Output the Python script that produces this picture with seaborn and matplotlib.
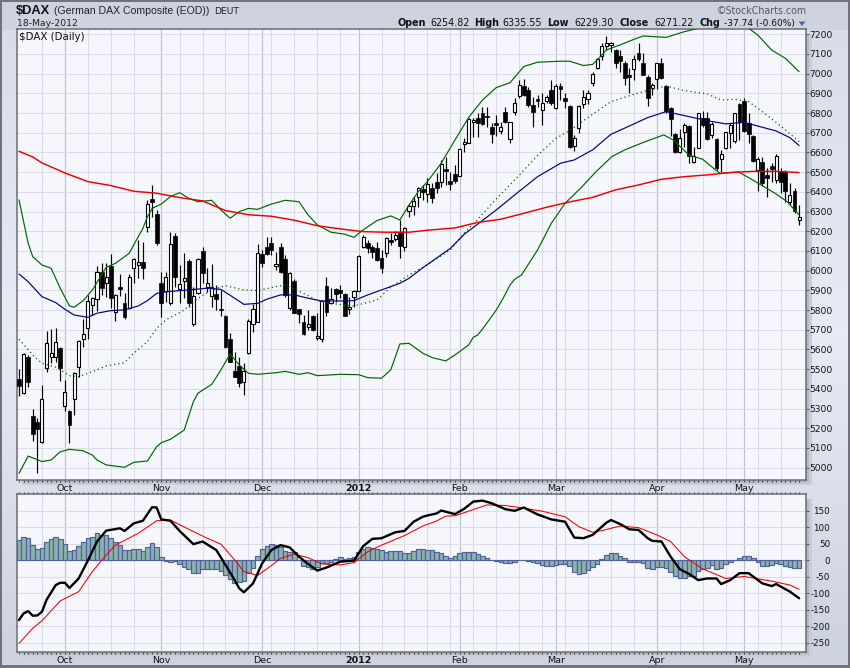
import numpy as np
import pandas as pd
import matplotlib
matplotlib.use('Agg')
import matplotlib.pyplot as plt
from matplotlib.patches import Rectangle, Polygon
from matplotlib.colors import to_rgb
import seaborn as sns

opens = [5449, 5378, 5564, 5263, 5234, 5132, 5504, 5564, 5560, 5606,
         5315, 5288, 5347, 5513, 5652, 5707, 5826, 5855, 5995, 5936,
         6024, 5789, 5916, 5834, 5809, 6015, 6027, 6042, 6223, 6364,
         6288, 5936, 5899, 5838, 6176, 5909, 5949, 6049, 5729, 5885,
         6100, 5919, 5873, 5882, 5804, 5770, 5652, 5491, 5516, 5437,
         5581, 5728, 5741, 6085, 6119, 6139, 6022, 6119, 6058, 5809,
         5948, 5804, 5741, 5716, 5770, 5657, 5655, 5922, 5838, 5905,
         5902, 5880, 5806, 5868, 5899, 6122, 6142, 6122, 6114, 6063,
         6092, 6156, 6161, 6198, 6122, 6303, 6330, 6376, 6413, 6388,
         6418, 6452, 6452, 6514, 6455, 6489, 6482, 6641, 6650, 6753,
         6773, 6799, 6787, 6729, 6748, 6711, 6807, 6667, 6807, 6888,
         6937, 6917, 6841, 6870, 6814, 6861, 6917, 6827, 6939, 6875,
         6836, 6635, 6723, 6846, 6870, 6954, 7027, 7091, 7142, 7144,
         7120, 7090, 7056, 6992, 7022, 7103, 7053, 6985, 6926, 6971,
         7053, 6939, 6824, 6692, 6604, 6706, 6734, 6553, 6624, 6777,
         6773, 6689, 6667, 6565, 6621, 6701, 6658, 6844, 6861, 6751,
         6684, 6511, 6550, 6486, 6531, 6460, 6506, 6503, 6349, 6404,
         6254.82]
closes = [5416, 5575, 5437, 5170, 5197, 5347, 5631, 5581, 5640, 5504,
          5383, 5217, 5479, 5645, 5677, 5848, 5863, 5995, 5914, 5970,
          5860, 5877, 5909, 5767, 5970, 6058, 6046, 6015, 6338, 6347,
          6142, 5834, 5966, 6134, 5966, 5931, 5961, 5834, 5872, 6058,
          5987, 5936, 5916, 5855, 5800, 5611, 5538, 5462, 5432, 5491,
          5746, 5804, 6088, 6037, 6083, 6105, 6032, 5995, 5877, 5987,
          5787, 5778, 5677, 5729, 5699, 5670, 5848, 5792, 5855, 5880,
          5885, 5772, 5814, 5899, 6076, 6173, 6114, 6097, 6054, 6015,
          6164, 6147, 6181, 6125, 6218, 6330, 6355, 6418, 6401, 6438,
          6371, 6421, 6542, 6508, 6440, 6455, 6616, 6655, 6768, 6765,
          6751, 6745, 6782, 6692, 6738, 6728, 6756, 6753, 6849, 6944,
          6892, 6841, 6807, 6863, 6849, 6883, 6849, 6939, 6921, 6861,
          6630, 6672, 6836, 6880, 6900, 6997, 7076, 7142, 7154, 7154,
          7053, 7066, 6980, 6985, 7076, 7073, 6995, 6875, 6943, 7053,
          6978, 6811, 6770, 6602, 6672, 6741, 6584, 6582, 6799, 6739,
          6667, 6746, 6520, 6591, 6702, 6738, 6799, 6756, 6711, 6692,
          6557, 6569, 6443, 6472, 6518, 6582, 6452, 6404, 6382, 6305,
          6271.22]
highs = [5499, 5581, 5570, 5298, 5250, 5420, 5694, 5706, 5708, 5614,
         5445, 5293, 5487, 5648, 5755, 5877, 5868, 6024, 6037, 6041,
         6083, 5880, 5982, 5885, 5982, 6066, 6156, 6144, 6359, 6435,
         6308, 5995, 5992, 6195, 6190, 6029, 6088, 6058, 5919, 6063,
         6119, 6012, 6032, 5927, 5902, 5775, 5682, 5589, 5564, 5530,
         5753, 5829, 6134, 6105, 6169, 6173, 6097, 6139, 6080, 5995,
         5956, 5806, 5775, 5800, 5775, 5784, 5850, 5966, 5910, 5910,
         5927, 5885, 5868, 5902, 6080, 6181, 6156, 6130, 6147, 6105,
         6173, 6190, 6200, 6257, 6223, 6338, 6376, 6427, 6435, 6469,
         6443, 6494, 6562, 6579, 6503, 6536, 6621, 6672, 6773, 6773,
         6799, 6833, 6833, 6748, 6790, 6756, 6833, 6756, 6878, 6968,
         6971, 6931, 6883, 6892, 6904, 6892, 6968, 6948, 6951, 6900,
         6841, 6689, 6841, 6917, 6917, 7010, 7081, 7154, 7191, 7159,
         7125, 7120, 7064, 7027, 7095, 7154, 7103, 6993, 6951, 7056,
         7078, 6943, 6829, 6700, 6717, 6748, 6739, 6630, 6802, 6812,
         6807, 6756, 6672, 6613, 6706, 6748, 6802, 6849, 6875, 6799,
         6689, 6579, 6579, 6520, 6545, 6592, 6520, 6511, 6443, 6418,
         6335.55]
lows = [5366, 5374, 5411, 5137, 4975, 5124, 5487, 5530, 5538, 5442,
        5290, 5127, 5268, 5462, 5611, 5652, 5775, 5795, 5877, 5868,
        5809, 5746, 5873, 5753, 5804, 5939, 5961, 5956, 6198, 6274,
        6130, 5763, 5843, 5826, 5919, 5834, 5860, 5817, 5719, 5882,
        5939, 5894, 5817, 5800, 5772, 5606, 5535, 5460, 5411, 5369,
        5575, 5690, 5738, 6017, 6080, 6080, 6004, 5987, 5868, 5800,
        5784, 5736, 5674, 5699, 5696, 5648, 5640, 5770, 5831, 5843,
        5860, 5770, 5778, 5814, 5897, 6114, 6088, 6063, 6050, 5990,
        6071, 6130, 6150, 6063, 6102, 6274, 6283, 6325, 6359, 6347,
        6342, 6393, 6426, 6435, 6410, 6443, 6480, 6604, 6646, 6680,
        6680, 6740, 6731, 6650, 6684, 6694, 6751, 6650, 6790, 6875,
        6887, 6833, 6731, 6833, 6739, 6853, 6841, 6819, 6866, 6824,
        6625, 6608, 6701, 6824, 6846, 6937, 7022, 7069, 7120, 7112,
        7027, 7010, 6943, 6900, 6968, 7066, 6993, 6836, 6892, 6921,
        6975, 6799, 6684, 6599, 6596, 6630, 6548, 6548, 6621, 6731,
        6663, 6672, 6511, 6503, 6618, 6621, 6650, 6663, 6706, 6646,
        6553, 6406, 6430, 6376, 6452, 6447, 6396, 6350, 6333, 6291,
        6229.30]

sma200_days = [0, 3, 5, 10, 15, 20, 25, 30, 35, 40, 45, 50, 55, 60, 65, 70, 75, 80, 85, 89, 95, 100,
               105, 110, 115, 120, 125, 130, 135, 140, 145, 150, 155, 160, 165, 170]
sma200 = [6606, 6577, 6547, 6496, 6452, 6432, 6403, 6393, 6371, 6354, 6305, 6284, 6276, 6256, 6228, 6212,
          6198, 6195, 6195, 6205, 6217, 6245, 6261, 6291, 6322, 6349, 6372, 6410, 6435, 6464, 6477, 6486,
          6498, 6504, 6504, 6498]
upper_days = [0, 1, 2, 3, 5, 7, 9, 11, 12, 14, 16, 19, 21, 24, 27, 28, 29, 31, 33, 35, 37, 39, 42, 44, 46,
              48, 50, 52, 55, 58, 61, 63, 65, 68, 71, 73, 75, 78, 81, 83, 85, 87, 89, 92, 95, 98, 101,
              104, 107, 110, 113, 118, 120, 123, 125, 126, 128, 131, 134, 136, 141, 145, 148, 152, 156,
              159, 161, 164, 167, 170]
upper = [6359, 6249, 6139, 6071, 6029, 6012, 5910, 5821, 5814, 5848, 5902, 6017, 6037, 6088, 6215, 6274,
         6316, 6338, 6376, 6396, 6367, 6350, 6357, 6308, 6266, 6300, 6316, 6311, 6338, 6357, 6350, 6283,
         6232, 6195, 6185, 6169, 6207, 6254, 6278, 6257, 6333, 6401, 6452, 6545, 6663, 6778, 6866, 6929,
         6954, 7036, 7058, 7063, 7063, 7041, 7047, 7069, 7120, 7146, 7174, 7191, 7184, 7213, 7230, 7239,
         7242, 7230, 7196, 7120, 7078, 7010]
mid_days = [0, 3, 5, 8, 11, 13, 17, 19, 23, 25, 28, 30, 32, 36, 39, 42, 45, 49, 52, 56, 58, 62, 65, 69, 73,
            78, 81, 85, 88, 94, 97, 100, 104, 108, 113, 117, 120, 124, 129, 134, 138, 141, 145, 150, 153,
            156, 159, 162, 166, 170]
mid = [5652, 5572, 5530, 5510, 5467, 5462, 5496, 5516, 5533, 5581, 5640, 5707, 5750, 5800, 5860, 5902, 5924,
       5902, 5899, 5919, 5927, 5885, 5848, 5831, 5821, 5851, 5916, 5978, 6017, 6105, 6190, 6261, 6364, 6460,
       6584, 6672, 6711, 6778, 6858, 6895, 6921, 6937, 6914, 6897, 6866, 6870, 6858, 6807, 6734, 6655]
sma50_days = [0, 2, 5, 8, 10, 12, 15, 17, 20, 23, 26, 28, 30, 33, 37, 41, 44, 47, 49, 52, 54, 57, 60, 63, 66,
              70, 73, 76, 79, 83, 85, 88, 94, 97, 100, 104, 108, 113, 118, 121, 125, 129, 133, 137, 141, 145,
              150, 154, 158, 161, 165, 168, 170]
sma50 = [5983, 5944, 5868, 5838, 5804, 5775, 5763, 5784, 5797, 5801, 5821, 5848, 5885, 5895, 5902, 5911, 5905,
         5860, 5829, 5834, 5855, 5877, 5877, 5860, 5846, 5846, 5848, 5877, 5902, 5936, 5961, 6015, 6113, 6184,
         6237, 6308, 6384, 6477, 6545, 6562, 6613, 6692, 6734, 6777, 6807, 6787, 6761, 6745, 6753, 6734, 6709,
         6675, 6635]
lower_days = [0, 2, 5, 7, 9, 11, 14, 16, 17, 19, 23, 25, 28, 30, 31, 33, 36, 38, 39, 42, 44, 46, 48, 50, 52,
              56, 58, 61, 63, 65, 70, 74, 76, 79, 81, 83, 85, 88, 90, 93, 95, 98, 99, 100, 101.5, 104,
              105.5, 107, 108, 109.5, 113, 116, 119, 122.7, 125.6, 129.2, 132, 136.5, 140.5, 142.6, 146,
              149, 151.8, 152.8, 156.8, 160.5, 165, 167.4, 170]
lower = [4971, 5059, 5031, 5039, 5081, 5093, 5086, 5064, 5039, 5014, 5002, 5027, 5034, 5107, 5127, 5144, 5191,
         5335, 5378, 5423, 5496, 5577, 5521, 5479, 5474, 5482, 5489, 5474, 5482, 5467, 5474, 5472, 5457, 5454,
         5496, 5628, 5631, 5581, 5559, 5542, 5572, 5623, 5662, 5674, 5719, 5800, 5860, 5927, 5956, 5978, 6105,
         6240, 6342, 6426, 6499, 6579, 6613, 6655, 6689, 6663, 6587, 6565, 6511, 6494, 6501, 6452, 6389, 6350,
         6283]

macd_days = [0, 1, 2, 3, 4, 5, 6, 8, 9, 10, 11, 13, 15, 17, 19, 22, 23, 25, 27, 29, 30, 31, 33, 35, 38, 40, 43,
             45, 47, 48, 49, 51, 53, 55, 57, 59, 61, 63, 65, 67, 70, 73, 75, 77, 79, 82, 84, 86, 88, 89, 91, 92,
             95, 97, 99, 101, 103, 106, 108, 110, 113, 116, 119, 121, 123, 125, 128, 129, 131, 133, 135, 137,
             138, 140, 142, 144, 146, 148, 150, 152, 153, 155, 157, 159, 162, 164, 165, 168, 170]
macd = [-181, -161, -154, -168, -167, -156, -120, -75, -68, -68, -84, -55, -1, 57, 90, 97, 89, 112, 120, 161, 160,
        124, 120, 89, 49, 57, 31, -14, -60, -85, -97, -70, -9, 31, 46, 39, 11, -11, -31, -22, -4, -1, 43, 65, 67,
        85, 89, 117, 132, 136, 142, 151, 140, 156, 178, 181, 173, 155, 150, 160, 139, 124, 117, 69, 67, 77, 114,
        122, 110, 94, 92, 67, 59, 57, 11, -27, -41, -60, -55, -55, -72, -60, -39, -39, -70, -78, -72, -95, -115]
signal_days = [0, 3, 5, 9, 13, 16, 19, 21, 26, 30, 33, 37, 41, 44, 47, 49, 52, 55, 57, 60, 63, 66, 70, 73, 76, 79,
               84, 88, 91, 93, 95, 98, 102, 106, 110, 114, 119, 122, 125, 127, 131, 135, 139, 142, 145, 149, 154,
               158, 164, 168, 170]
signal = [-252, -206, -183, -123, -95, -34, 16, 46, 82, 120, 122, 94, 67, 49, 1, -34, -46, -16, 6, 19, 8, -11, -14,
          -7, 26, 46, 75, 104, 119, 134, 135, 149, 168, 166, 158, 149, 132, 102, 85, 90, 104, 99, 77, 57, 11, -26,
          -55, -49, -63, -75, -88]
hist = [62, 70, 67, 46, 33, 36, 56, 65, 70, 64,
        49, 28, 31, 43, 54, 67, 72, 82, 77, 76,
        67, 55, 46, 31, 31, 33, 33, 28, 41, 52,
        39, 9, -1, -4, -1, -12, -21, -27, -37, -39,
        -25, -25, -25, -25, -31, -45, -58, -70, -67, -63,
        -39, -22, 13, 34, 43, 49, 45, 39, 28, 24,
        24, 1, -16, -19, -25, -21, -9, -8, -4, 3,
        9, 3, 6, 9, 26, 33, 39, 38, 33, 31,
        26, 28, 28, 28, 21, 21, 29, 33, 33, 31,
        30, 24, 23, 13, 8, 13, 21, 26, 26, 24,
        18, 13, 6, 1, -1, -4, -7, -9, -4, 1,
        1, -1, -4, -9, -14, -16, -16, -14, -12, -12,
        -16, -34, -43, -37, -29, -19, -12, 3, 16, 21,
        21, 13, 6, -4, -5, -5, -9, -24, -27, -21,
        -19, -24, -34, -49, -55, -55, -47, -47, -31, -27,
        -24, -14, -25, -23, -12, -4, 1, 8, 12, 12,
        6, -4, -16, -17, -13, -9, -12, -16, -21, -24,
        -24]

month_days = [10, 31, 53, 74, 96, 117, 139, 158]
month_labels = ['Oct', 'Nov', 'Dec', '2012', 'Feb', 'Mar', 'Apr', 'May']
week_days = [5, 15, 20, 25, 35, 40, 45, 50, 55, 60, 65, 70, 79, 84, 89, 94, 99, 104, 109, 114, 119, 124, 129,
             134, 144, 149, 154, 161, 166]
price_ticks = list(range(5000, 7201, 100))
macd_ticks = list(range(-250, 151, 50))

W, H = 850, 668
BG = '#cdd3df'
PANEL = '#f6f7fc'
GRID = '#dcdde5'
MONTH_GRID = '#bfc1cb'
FRAME = '#6a6d79'

sns.set_style('white')
plt.rcParams['font.family'] = ['DejaVu Sans']

fig = plt.figure(figsize=(W / 100, H / 100), dpi=100, facecolor=BG)


def px_axes(left, top, right, bottom):
    return fig.add_axes([left / W, 1 - bottom / H, (right - left) / W, (bottom - top) / H])


def px_rect(left, top, right, bottom, color):
    fig.add_artist(Rectangle((left / W, 1 - bottom / H), (right - left) / W, (bottom - top) / H,
                             transform=fig.transFigure, facecolor=color, edgecolor='none', zorder=-2))


def px_text(x, y, s, **kw):
    kw.setdefault('color', '#111111')
    kw.setdefault('va', 'center')
    fig.text(x / W, 1 - y / H, s, **kw)


# page background: light in the middle of the side margins, darker at top and bottom
back = fig.add_axes([0, 0, 1, 1], zorder=-5)
back.axis('off')
rows = np.arange(H)
shade = np.stack([np.interp(rows, [0, 30, 330, 650, H], [to_rgb(BG)[c], to_rgb('#d9dde8')[c], to_rgb('#e8ebf4')[c],
                                                         to_rgb(BG)[c], to_rgb(BG)[c]]) for c in range(3)], axis=1)
back.imshow(np.repeat(shade[:, None, :], W, axis=1), aspect='auto', extent=(0, W, H, 0), interpolation='nearest')
px_rect(0, 0, W, 30, BG)
px_rect(0, 652, W, H, BG)
px_rect(0, 0, W, 2, '#6f7380')
px_rect(0, H - 3, W, H, '#6f7380')
px_rect(0, 0, 2, H, '#6f7380')
px_rect(W - 2, 0, W, H, '#6f7380')

# soft shadows around the panels
for top, bottom in [(34, 480), (499, 652)]:
    px_rect(806, top, 809, bottom + 4, '#b5b9c5')
    px_rect(809, top, 812, bottom + 4, '#c9cdd9')
    px_rect(22, bottom, 809, bottom + 3, '#b9bdc9')
    px_rect(22, bottom + 3, 812, bottom + 5, '#c9cdd9')

ax = px_axes(16.7, 29.3, 806, 479.5)
ax2 = px_axes(16.7, 494, 806, 651.7)

days = np.arange(len(closes))
ohlc = pd.DataFrame({'day': days, 'open': opens, 'high': highs, 'low': lows, 'close': closes})
up = ohlc[ohlc['close'] >= ohlc['open']]
down = ohlc[ohlc['close'] < ohlc['open']]

ax.vlines(ohlc['day'], ohlc['low'], ohlc['high'], color='black', lw=0.85, zorder=3)
ax.bar(up['day'], up['close'] - up['open'], bottom=up['open'], width=0.68, facecolor='white',
       edgecolor='black', lw=0.8, zorder=4)
ax.bar(down['day'], down['open'] - down['close'], bottom=down['close'], width=0.85, facecolor='black',
       edgecolor='black', lw=0.5, zorder=4)

sns.lineplot(x=upper_days, y=upper, ax=ax, color='#006400', lw=0.85, errorbar=None, zorder=5)
sns.lineplot(x=lower_days, y=lower, ax=ax, color='#006400', lw=0.85, errorbar=None, zorder=5)
sns.lineplot(x=mid_days, y=mid, ax=ax, color='#006400', lw=0.9, linestyle=(0, (1, 2.4)), errorbar=None, zorder=5)
sns.lineplot(x=sma50_days, y=sma50, ax=ax, color='#000080', lw=0.85, errorbar=None, zorder=5)
sns.lineplot(x=sma200_days, y=sma200, ax=ax, color='#ee0000', lw=1.05, errorbar=None, zorder=5)

sns.barplot(x=days, y=hist, ax=ax2, native_scale=True, width=1.0, color='#8cb2ac', saturation=1,
            edgecolor='#50609c', linewidth=0.85, zorder=3)
sns.lineplot(x=signal_days, y=signal, ax=ax2, color='#ee0000', lw=0.75, errorbar=None, zorder=4)
sns.lineplot(x=macd_days, y=macd, ax=ax2, color='black', lw=1.7, errorbar=None, zorder=5)

ax.set_ylim(4940, 7225)
ax2.set_ylim(-277, 201)
ax.set_yticks(price_ticks)
ax.set_yticklabels([str(v) for v in price_ticks])
ax2.set_yticks(macd_ticks)
ax2.set_yticklabels([str(v) for v in macd_ticks])

for a, label_size, label_pad in ((ax, 6.6, 17.2), (ax2, 6.3, 15.3)):
    a.set_xlim(-0.5, 171.5)
    a.set_facecolor(PANEL)
    a.set_axisbelow(True)
    a.set_xlabel('')
    a.set_ylabel('')
    a.set_xticks(month_days)
    a.set_xticklabels(month_labels)
    a.set_xticks(week_days, minor=True)
    a.yaxis.tick_right()
    a.grid(True, axis='y', color=GRID, lw=0.75)
    a.grid(True, axis='x', which='minor', color=GRID, lw=0.75)
    a.grid(True, axis='x', which='major', color=MONTH_GRID, lw=0.85)
    a.tick_params(axis='x', which='both', length=0, pad=3.4, labelsize=6.8, colors='#111111')
    a.tick_params(axis='y', length=2, width=0.7, color='#555555', pad=label_pad, labelsize=label_size,
                  labelcolor='#111111')
    for lab in a.get_yticklabels():
        lab.set_ha('right')
    for lab in a.get_xticklabels():
        if lab.get_text() == '2012':
            lab.set_fontweight('bold')
    for side in a.spines.values():
        side.set_color(FRAME)
        side.set_linewidth(1.1)
        side.set_visible(True)

# the daily tick dots along the panel edges
for a, where in ((ax, 'bottom'), (ax2, 'top'), (ax2, 'bottom')):
    edge = a.secondary_xaxis(where)
    edge.set_xticks(days)
    edge.set_xticklabels([])
    edge.tick_params(length=1.3, width=0.8, color='#444444')
    edge.spines[where].set_visible(False)

# header
SANS = 'Liberation Sans'
px_text(16, 10.5, '$DAX', family=SANS, fontweight='bold', fontsize=9.3)
px_text(53.5, 10.5, '(German DAX Composite (EOD))', family=SANS, fontsize=7.55, color='#222222')
px_text(214.5, 11, 'DEUT', fontsize=6.7, color='#222222')
px_text(16.5, 23.5, '18-May-2012', fontsize=6.7, color='#222222')
px_text(19, 36.5, '$DAX (Daily)', fontsize=7.4, color='#111111')

stats = [(398, 'Open', True, 6.9), (430, '6254.82', False, 6.9), (474, 'High', True, 6.9),
         (502, '6335.55', False, 6.9), (547, 'Low', True, 6.9), (574, '6229.30', False, 6.9),
         (619, 'Close', True, 6.9), (654, '6271.22', False, 6.9), (699, 'Chg', True, 6.9),
         (724, '-37.74 (-0.60%)', False, 6.5)]
for x, s, bold, size in stats:
    px_text(x, 23.5, s, fontsize=size, fontweight='bold' if bold else 'normal', color='#111111')
fig.add_artist(Polygon([(798.5 / W, 1 - 21.5 / H), (805.5 / W, 1 - 21.5 / H), (802 / W, 1 - 26 / H)],
                       transform=fig.transFigure, facecolor='#4f6a96', edgecolor='none'))
px_text(717, 10.5, '\u00a9StockCharts.com', fontsize=6.85, color='#55585f')

fig.savefig('out.png', dpi=100, facecolor=BG)
